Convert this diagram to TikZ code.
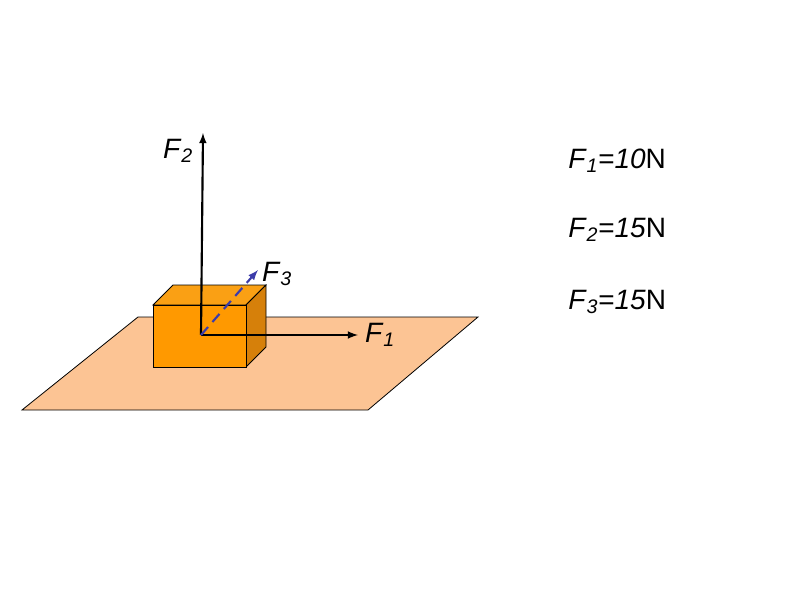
\documentclass[tikz,border=0pt]{standalone}
\usepackage{fontspec}
\setmainfont{Liberation Sans}
\begin{document}
\begin{tikzpicture}[x=0.75pt,y=-0.75pt,
  lbl/.style={font=\fontsize{21}{24}\selectfont,inner sep=0pt},
  force/.style={line width=1.6pt,-latex}]
\useasboundingbox (0,0) rectangle (794,596);
\fill[fill={rgb,255:red,252;green,196;blue,148}] (22,410) -- (138,317) -- (478,317) -- (368,410) -- cycle;
\draw[line width=0.6pt] (22,410) -- (138,317) -- (478,317) -- (368,410) -- cycle;
% box
\filldraw[fill={rgb,255:red,250;green,160;blue,20},line width=0.6pt] (153,305) -- (173,285) -- (266,285) -- (246,305) -- cycle;
\filldraw[fill={rgb,255:red,214;green,128;blue,10},line width=0.6pt] (246,305) -- (266,285) -- (266,347) -- (246,367) -- cycle;
\filldraw[fill={rgb,255:red,255;green,153;blue,0},line width=0.6pt] (153,305) rectangle (246,367);
\coordinate (o) at (201,335);
\coordinate (t2) at (203,133);
\coordinate (t1) at (358,335);
\coordinate (t3) at (258,270);
\draw[force] (o) -- (t2);
\draw[force] (o) -- (t1);
\draw[line width=1.6pt,dashed,dash pattern=on 8pt off 5pt,color={rgb,255:red,60;green,60;blue,170},-latex] (o) -- (t3);
\node[lbl] (l2) at (178,151) {\textit{F}\textsubscript{\textit{2}}};
\node[lbl] (l3) at (277,274) {\textit{F}\textsubscript{\textit{3}}};
\node[lbl] (l1) at (380,335) {\textit{F}\textsubscript{\textit{1}}};
\node[lbl,anchor=west] (v1) at (568,161) {\textit{F}\textsubscript{\textit{1}}=\textit{10}N};
\node[lbl,anchor=west] (v2) at (568,230) {\textit{F}\textsubscript{\textit{2}}=\textit{15}N};
\node[lbl,anchor=west] (v3) at (568,302) {\textit{F}\textsubscript{\textit{3}}=\textit{15}N};
\end{tikzpicture}
\end{document}
